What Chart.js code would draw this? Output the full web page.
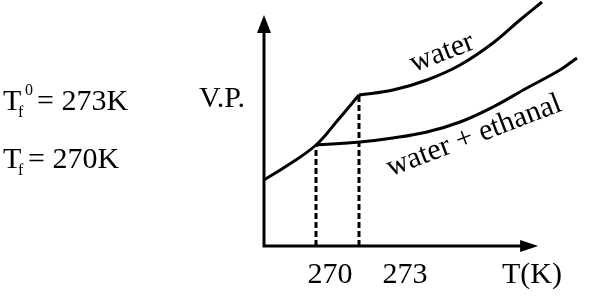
<!DOCTYPE html>
<html>
<head>
<meta charset="utf-8">
<script src="https://cdn.jsdelivr.net/npm/chart.js@4/dist/chart.umd.min.js"></script>
<style>
    body { margin: 0; background: #fff; }
    canvas { display: block; }
</style>
</head>
<body>
<canvas id="vpChart" width="599" height="299"></canvas>
<script>
// temperature (K) vs vapour pressure (arbitrary units)
const iceT = [266.37, 268.05, 270.0, 271.53, 273.0];
const iceVP = [6.6, 8.1, 10.1, 12.6, 15.1];

const waterT = [273.0, 275.37, 277.74, 280.05, 282.35, 284.23, 285.77];
const waterVP = [15.1, 15.6, 16.6, 18.1, 20.3, 22.6, 24.4];

const solutionT = [270.0, 273.07, 275.37, 277.74, 280.05, 282.35, 284.72, 287.02, 288.21];
const solutionVP = [10.1, 10.4, 10.8, 11.4, 12.4, 13.9, 15.8, 17.6, 18.8];

// freezing points: solution, pure water
const freezeT = [270, 273];
const freezeVP = [10.1, 15.1];
const tickLabels = ['270', '273'];

const xMin = 266.37, xMax = 289.4;
const yMin = 0, yMax = 24.6;
const xAxisEnd = 285.5;   // arrow tip of T axis
const yAxisEnd = 23.1;    // arrow tip of V.P. axis

const toPts = (xs, ys) => xs.map((x, i) => ({ x: x, y: ys[i] }));

const curve = (xs, ys) => ({
    data: toPts(xs, ys),
    borderColor: '#000',
    borderWidth: 3,
    pointRadius: 0,
    tension: 0.4,
    fill: false
});

const dashed = (i) => ({
    data: [{ x: freezeT[i], y: 0 }, { x: freezeT[i], y: freezeVP[i] }],
    borderColor: '#000',
    borderWidth: 3,
    borderDash: [6, 3],
    pointRadius: 0,
    fill: false
});

const serif = '"Liberation Serif", "Times New Roman", serif';

// axes with arrow heads and all the labels
const decorPlugin = {
    id: 'decor',
    afterDraw(chart) {
        const ctx = chart.ctx;
        const xs = chart.scales.x, ys = chart.scales.y;
        const x0 = xs.getPixelForValue(xMin);
        const y0 = ys.getPixelForValue(0);
        const xe = xs.getPixelForValue(xAxisEnd);
        const ye = ys.getPixelForValue(yAxisEnd);

        ctx.save();
        ctx.strokeStyle = '#000';
        ctx.fillStyle = '#000';
        ctx.lineWidth = 3;
        ctx.beginPath();
        ctx.moveTo(x0, ye + 10);
        ctx.lineTo(x0, y0);
        ctx.lineTo(xe - 10, y0);
        ctx.stroke();

        // arrow heads
        ctx.beginPath();
        ctx.moveTo(x0, ye);
        ctx.lineTo(x0 - 7, ye + 18);
        ctx.lineTo(x0 + 7, ye + 18);
        ctx.closePath();
        ctx.fill();
        ctx.beginPath();
        ctx.moveTo(xe, y0);
        ctx.lineTo(xe - 18, y0 - 6);
        ctx.lineTo(xe - 18, y0 + 6);
        ctx.closePath();
        ctx.fill();

        ctx.font = '30px ' + serif;
        ctx.textBaseline = 'alphabetic';
        ctx.textAlign = 'center';
        const tickShift = [14, 46];
        tickLabels.forEach((t, i) => {
            ctx.fillText(t, xs.getPixelForValue(freezeT[i]) + tickShift[i], y0 + 37);
        });
        ctx.fillText('T(K)', 532, y0 + 37);
        ctx.fillText('V.P.', 222, 107);

        // curve labels
        ctx.save();
        ctx.translate(442, 53);
        ctx.rotate(-21 * Math.PI / 180);
        ctx.textBaseline = 'middle';
        ctx.fillText('water', 0, 0);
        ctx.restore();

        ctx.save();
        ctx.translate(474, 136);
        ctx.rotate(-21 * Math.PI / 180);
        ctx.textBaseline = 'middle';
        ctx.fillText('water + ethanal', 0, 0);
        ctx.restore();

        // freezing point notes
        ctx.textAlign = 'left';
        ctx.fillText('T', 3, 110);
        ctx.fillText('= 273K', 37, 110);
        ctx.fillText('T', 3, 168);
        ctx.fillText('= 270K', 28, 168);
        ctx.font = '16px ' + serif;
        ctx.fillText('f', 18, 117);
        ctx.fillText('0', 25, 95);
        ctx.fillText('f', 18, 175);
        ctx.restore();
    }
};

new Chart(document.getElementById('vpChart').getContext('2d'), {
    type: 'line',
    data: {
        datasets: [
            curve(iceT, iceVP),
            curve(waterT, waterVP),
            curve(solutionT, solutionVP),
            dashed(0),
            dashed(1)
        ]
    },
    options: {
        responsive: false,
        animation: false,
        events: [],
        layout: { padding: { left: 264, right: 5, top: 0, bottom: 53 } },
        plugins: { legend: { display: false }, tooltip: { enabled: false } },
        scales: {
            x: { type: 'linear', min: xMin, max: xMax, display: false },
            y: { type: 'linear', min: yMin, max: yMax, display: false }
        }
    },
    plugins: [decorPlugin]
});
</script>
</body>
</html>
